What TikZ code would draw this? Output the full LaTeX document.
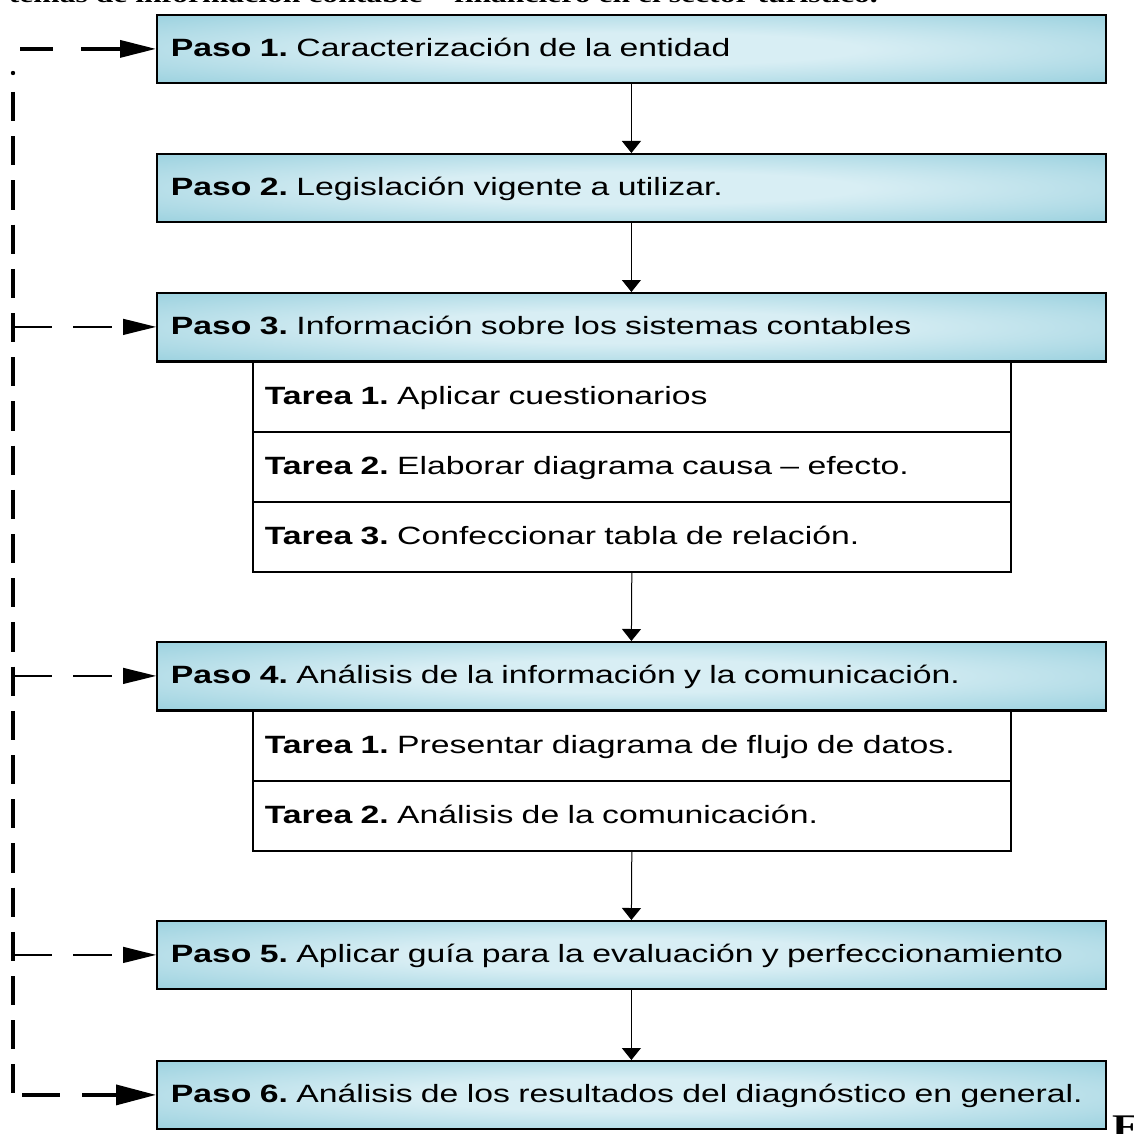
\documentclass[tikz,border=0pt]{standalone}
\usepackage{fontspec}
\usetikzlibrary{arrows.meta}
\newfontfamily\arx{Liberation Sans}[FakeStretch=1.35]
\newfontfamily\tnr{Liberation Serif}[FakeStretch=1.34]
\definecolor{boxblue}{RGB}{144,204,219}
\definecolor{boxlight}{RGB}{216,238,244}
\pgfdeclareradialshading{boxshade}{\pgfpoint{0bp}{0bp}}{color(0bp)=(boxlight); color(12bp)=(boxlight); color(40bp)=(boxblue); color(50bp)=(boxblue)}
\tikzset{
  pasobox/.style={draw=black, line width=1.8pt, shading=boxshade,
    minimum width=949pt, minimum height=68pt, text width=921pt, inner xsep=14pt,
    align=left, text height=18pt, text depth=2pt, anchor=north west,
    font=\arx\fontsize{25}{30}\selectfont\frenchspacing},
  tareabox/.style={draw=black, line width=1.6pt, fill=white,
    minimum width=758pt, minimum height=70pt, text width=734pt, inner xsep=12pt,
    align=left, text height=18pt, text depth=2pt, anchor=north west,
    font=\arx\fontsize{25}{30}\selectfont\frenchspacing},
  flow/.style={draw=black, line width=1pt, -{Triangle[length=12pt,width=19pt]}},
  thindash/.style={draw=black, line width=1.5pt, dash pattern=on 39pt off 21pt on 39pt off 20pt,
    -{Triangle[length=33pt,width=16pt]}},
  thickdashA/.style={draw=black, line width=3.5pt, dash pattern=on 33pt off 28pt on 80pt off 20pt,
    -{Triangle[length=36pt,width=17pt]}},
  thickdashB/.style={draw=black, line width=3.5pt, dash pattern=on 38pt off 22pt on 80pt off 20pt,
    -{Triangle[length=40pt,width=20pt]}},
  vdash/.style={draw=black, line width=3.6pt, dash pattern=on 29.2pt off 15pt},
}
\begin{document}
\begin{tikzpicture}[x=1pt,y=-1pt]
\useasboundingbox (0,0) rectangle (1133,1134);
% top cut-off caption
\node[anchor=base east, inner sep=0pt, font=\tnr\bfseries\fontsize{23.6}{28}\selectfont] (cap) at (878,3)
  {temas de información contable – financiero en el sector turístico.};
\node[anchor=base west, inner sep=0pt, font=\tnr\bfseries\fontsize{33}{36}\selectfont] (fig) at (1112,1137) {F};
% paso boxes
\node[pasobox] (p1) at (156,14) {\bfseries Paso 1.\mdseries{} Caracterización de la entidad};
\node[pasobox] (p2) at (156,153) {\bfseries Paso 2.\mdseries{} Legislación vigente a utilizar.};
\node[pasobox] (p3) at (156,292) {\bfseries Paso 3.\mdseries{} Información sobre los sistemas contables};
\node[tareabox] (t31) at (252,361) {\bfseries Tarea 1.\mdseries{} Aplicar cuestionarios};
\node[tareabox] (t32) at (252,431) {\bfseries Tarea 2.\mdseries{} Elaborar diagrama causa – efecto.};
\node[tareabox] (t33) at (252,501) {\bfseries Tarea 3.\mdseries{} Confeccionar tabla de relación.};
\node[pasobox] (p4) at (156,641) {\bfseries Paso 4.\mdseries{} Análisis de la información y la comunicación.};
\node[tareabox] (t41) at (252,710) {\bfseries Tarea 1.\mdseries{} Presentar diagrama de flujo de datos.};
\node[tareabox] (t42) at (252,780) {\bfseries Tarea 2.\mdseries{} Análisis de la comunicación.};
\node[pasobox] (p5) at (156,920) {\bfseries Paso 5.\mdseries{} Aplicar guía para la evaluación y perfeccionamiento};
\node[pasobox] (p6) at (156,1060) {\bfseries Paso 6.\mdseries{} Análisis de los resultados del diagnóstico en general.};
% redraw box outlines on top of tarea boxes
\draw[line width=1.8pt] (p3.south west) -- (p3.south east);
\draw[line width=1.8pt] (p4.south west) -- (p4.south east);
% main flow
\draw[flow] (p1.south) -- (p2.north);
\draw[flow] (p2.south) -- (p3.north);
\draw[flow] (t33.south) -- (p4.north);
\draw[flow] (t42.south) -- (p5.north);
\draw[flow] (p5.south) -- (p6.north);
% left feedback line
\coordinate (vdot) at (13,73);
\coordinate (vtop) at (13,92);
\coordinate (vbot) at (13,1093);
\fill (vdot) circle (2.2pt);
\draw[vdash] (vtop) -- (vbot);
\coordinate (a1) at (20,0);
\coordinate (a6) at (22,0);
\draw[thickdashA] (a1 |- p1.west) -- (p1.west);
\draw[thindash] (vtop |- p3.west) -- (p3.west);
\draw[thindash] (vtop |- p4.west) -- (p4.west);
\draw[thindash] (vtop |- p5.west) -- (p5.west);
\draw[thickdashB] (a6 |- p6.west) -- (p6.west);
\end{tikzpicture}
\end{document}
